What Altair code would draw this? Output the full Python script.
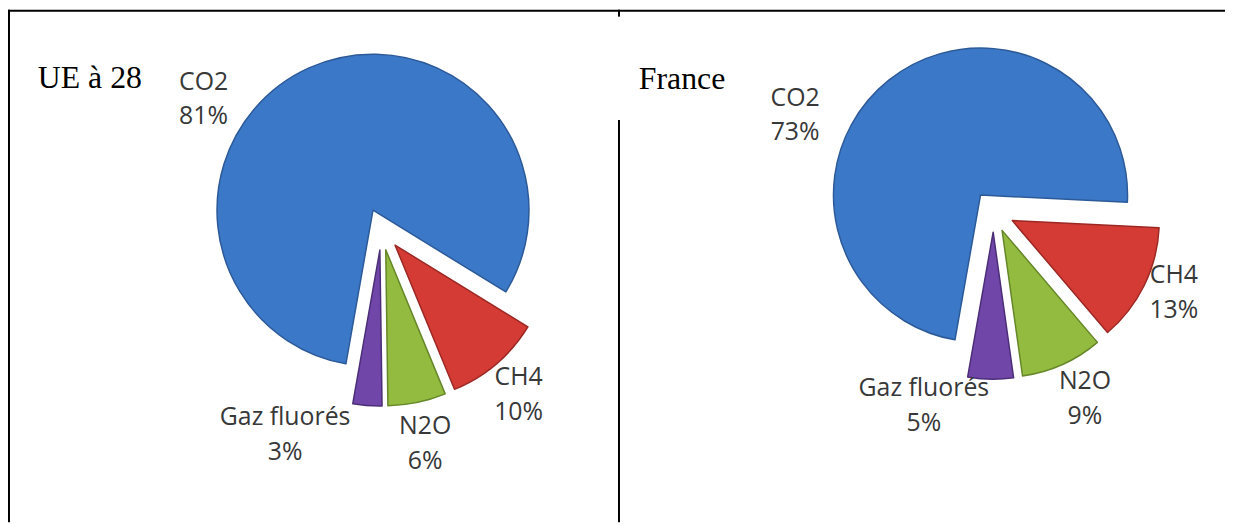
import altair as alt
import pandas as pd

# ---- data ----
pies = ["UE à 28", "France"]
gases = ["CO2", "CH4", "N2O", "Gaz fluorés"]
ue_values = [81, 10, 6, 3]
fr_values = [73, 13, 9, 5]

# ---- styling / layout ----
colors = ["#3C78C8", "#D43B35", "#92BB3F", "#7046A8"]
edge_colors = ["#2C5A98", "#9C2824", "#668729", "#4C2E78"]

W, H = 1223, 514
START_DEG = 190          # angle of first slice (clockwise from 12 o'clock)
EXPLODE = 21             # px, slice explosion
LINE_H = 35
PIE_LAYOUT = {
    "UE à 28": dict(cx=374, cy=219, r=157, tx=28, ty=77),
    "France": dict(cx=990, cy=201, r=148, tx=633, ty=78),
}
# label placement: (angle nudge in degrees from slice mid-angle, distance from centre)
LABEL_PLACE = {
    ("UE à 28", "CO2"): (-29.6, 222), ("UE à 28", "CH4"): (0.7, 216),
    ("UE à 28", "N2O"): (0.1, 220), ("UE à 28", "Gaz fluorés"): (20.6, 228),
    ("France", "CO2"): (-25.5, 222), ("France", "CH4"): (-2.0, 199),
    ("France", "N2O"): (-1.8, 210), ("France", "Gaz fluorés"): (18.7, 208),
}

rows = []
for pie, vals in zip(pies, [ue_values, fr_values]):
    for i, (g, v) in enumerate(zip(gases, vals)):
        rows.append({"pie": pie, "gas": g, "order": i, "value": v})
df = pd.DataFrame(rows)


def pie_expr(key):
    e = "0"
    for p in pies:
        e = f"(datum.pie === '{p}' ? {PIE_LAYOUT[p][key]} : {e})"
    return e


def place_expr(idx):
    e = "0"
    for (p, g), vals in LABEL_PLACE.items():
        e = f"((datum.pie === '{p}' && datum.gas === '{g}') ? {vals[idx]} : {e})"
    return e


xs = alt.Scale(domain=[0, W], range=[0, W], nice=False, zero=False)
ys = alt.Scale(domain=[0, H], range=[0, H], nice=False, zero=False)

base = (
    alt.Chart(df)
    .transform_window(cum="sum(value)", groupby=["pie"], sort=[alt.SortField("order")], frame=[None, 0])
    .transform_joinaggregate(total="sum(value)", groupby=["pie"])
    .transform_calculate(
        cx=pie_expr("cx"), cy=pie_expr("cy"), r=pie_expr("r"),
        t0=f"{START_DEG}*PI/180 + 2*PI*(datum.cum - datum.value)/datum.total",
        t1=f"{START_DEG}*PI/180 + 2*PI*datum.cum/datum.total",
    )
    .transform_calculate(mid="(datum.t0 + datum.t1)/2")
    .transform_calculate(
        px=f"datum.cx + {EXPLODE}*sin(datum.mid)",
        py=f"datum.cy - {EXPLODE}*cos(datum.mid)",
        la="datum.mid + (" + place_expr(0) + ")*PI/180",
        ld=place_expr(1),
        label="datum.gas + '\\n' + datum.value + '%'",
    )
    .transform_calculate(
        lx="datum.cx + datum.ld*sin(datum.la)",
        ly="datum.cy - datum.ld*cos(datum.la)",
    )
)

arcs = base.mark_arc(strokeWidth=1.5, strokeJoin="round").encode(
    x=alt.X("px:Q", scale=xs, axis=None),
    y=alt.Y("py:Q", scale=ys, axis=None),
    theta=alt.Theta("t0:Q", scale=None, stack=False),
    theta2="t1:Q",
    radius=alt.Radius("r:Q", scale=None),
    color=alt.Color("gas:N", scale=alt.Scale(domain=gases, range=colors), legend=None),
    stroke=alt.Stroke("gas:N", scale=alt.Scale(domain=gases, range=edge_colors), legend=None),
)

labels = base.mark_text(
    font="Open Sans", fontSize=25, color="#383838", lineBreak="\n",
    lineHeight=LINE_H, align="center", baseline="middle", dy=-LINE_H / 2,
).encode(
    x=alt.X("lx:Q", scale=xs, axis=None),
    y=alt.Y("ly:Q", scale=ys, axis=None),
    text="label:N",
)

one = pd.DataFrame({"k": [0]})
titles = [
    alt.Chart(one).mark_text(font="Liberation Serif", fontSize=32, color="black",
                             align="left", baseline="alphabetic")
    .encode(x=alt.value(PIE_LAYOUT[p]["tx"]), y=alt.value(PIE_LAYOUT[p]["ty"]), text=alt.value(p))
    for p in pies
]


def rule(x, y, x2=None, y2=None):
    enc = dict(x=alt.value(x), y=alt.value(y))
    if x2 is not None:
        enc["x2"] = alt.value(x2)
    if y2 is not None:
        enc["y2"] = alt.value(y2)
    return alt.Chart(one).mark_rule(color="black", strokeWidth=2).encode(**enc)


borders = [
    rule(-3, -1, x2=W),           # top border
    rule(-1, -2, y2=H),           # left border
    rule(613, -2, y2=5),          # middle divider, short top stub
    rule(613, 109, y2=H),         # middle divider, main part
]

chart = (
    alt.layer(*borders, arcs, labels, *titles)
    .properties(width=W, height=H, padding={"left": 2, "top": 2, "right": 0, "bottom": 0},
                autosize="none", background="white")
    .configure_view(stroke=None)
)

chart.save("out.html", embed_options={"renderer": "svg", "actions": False})
